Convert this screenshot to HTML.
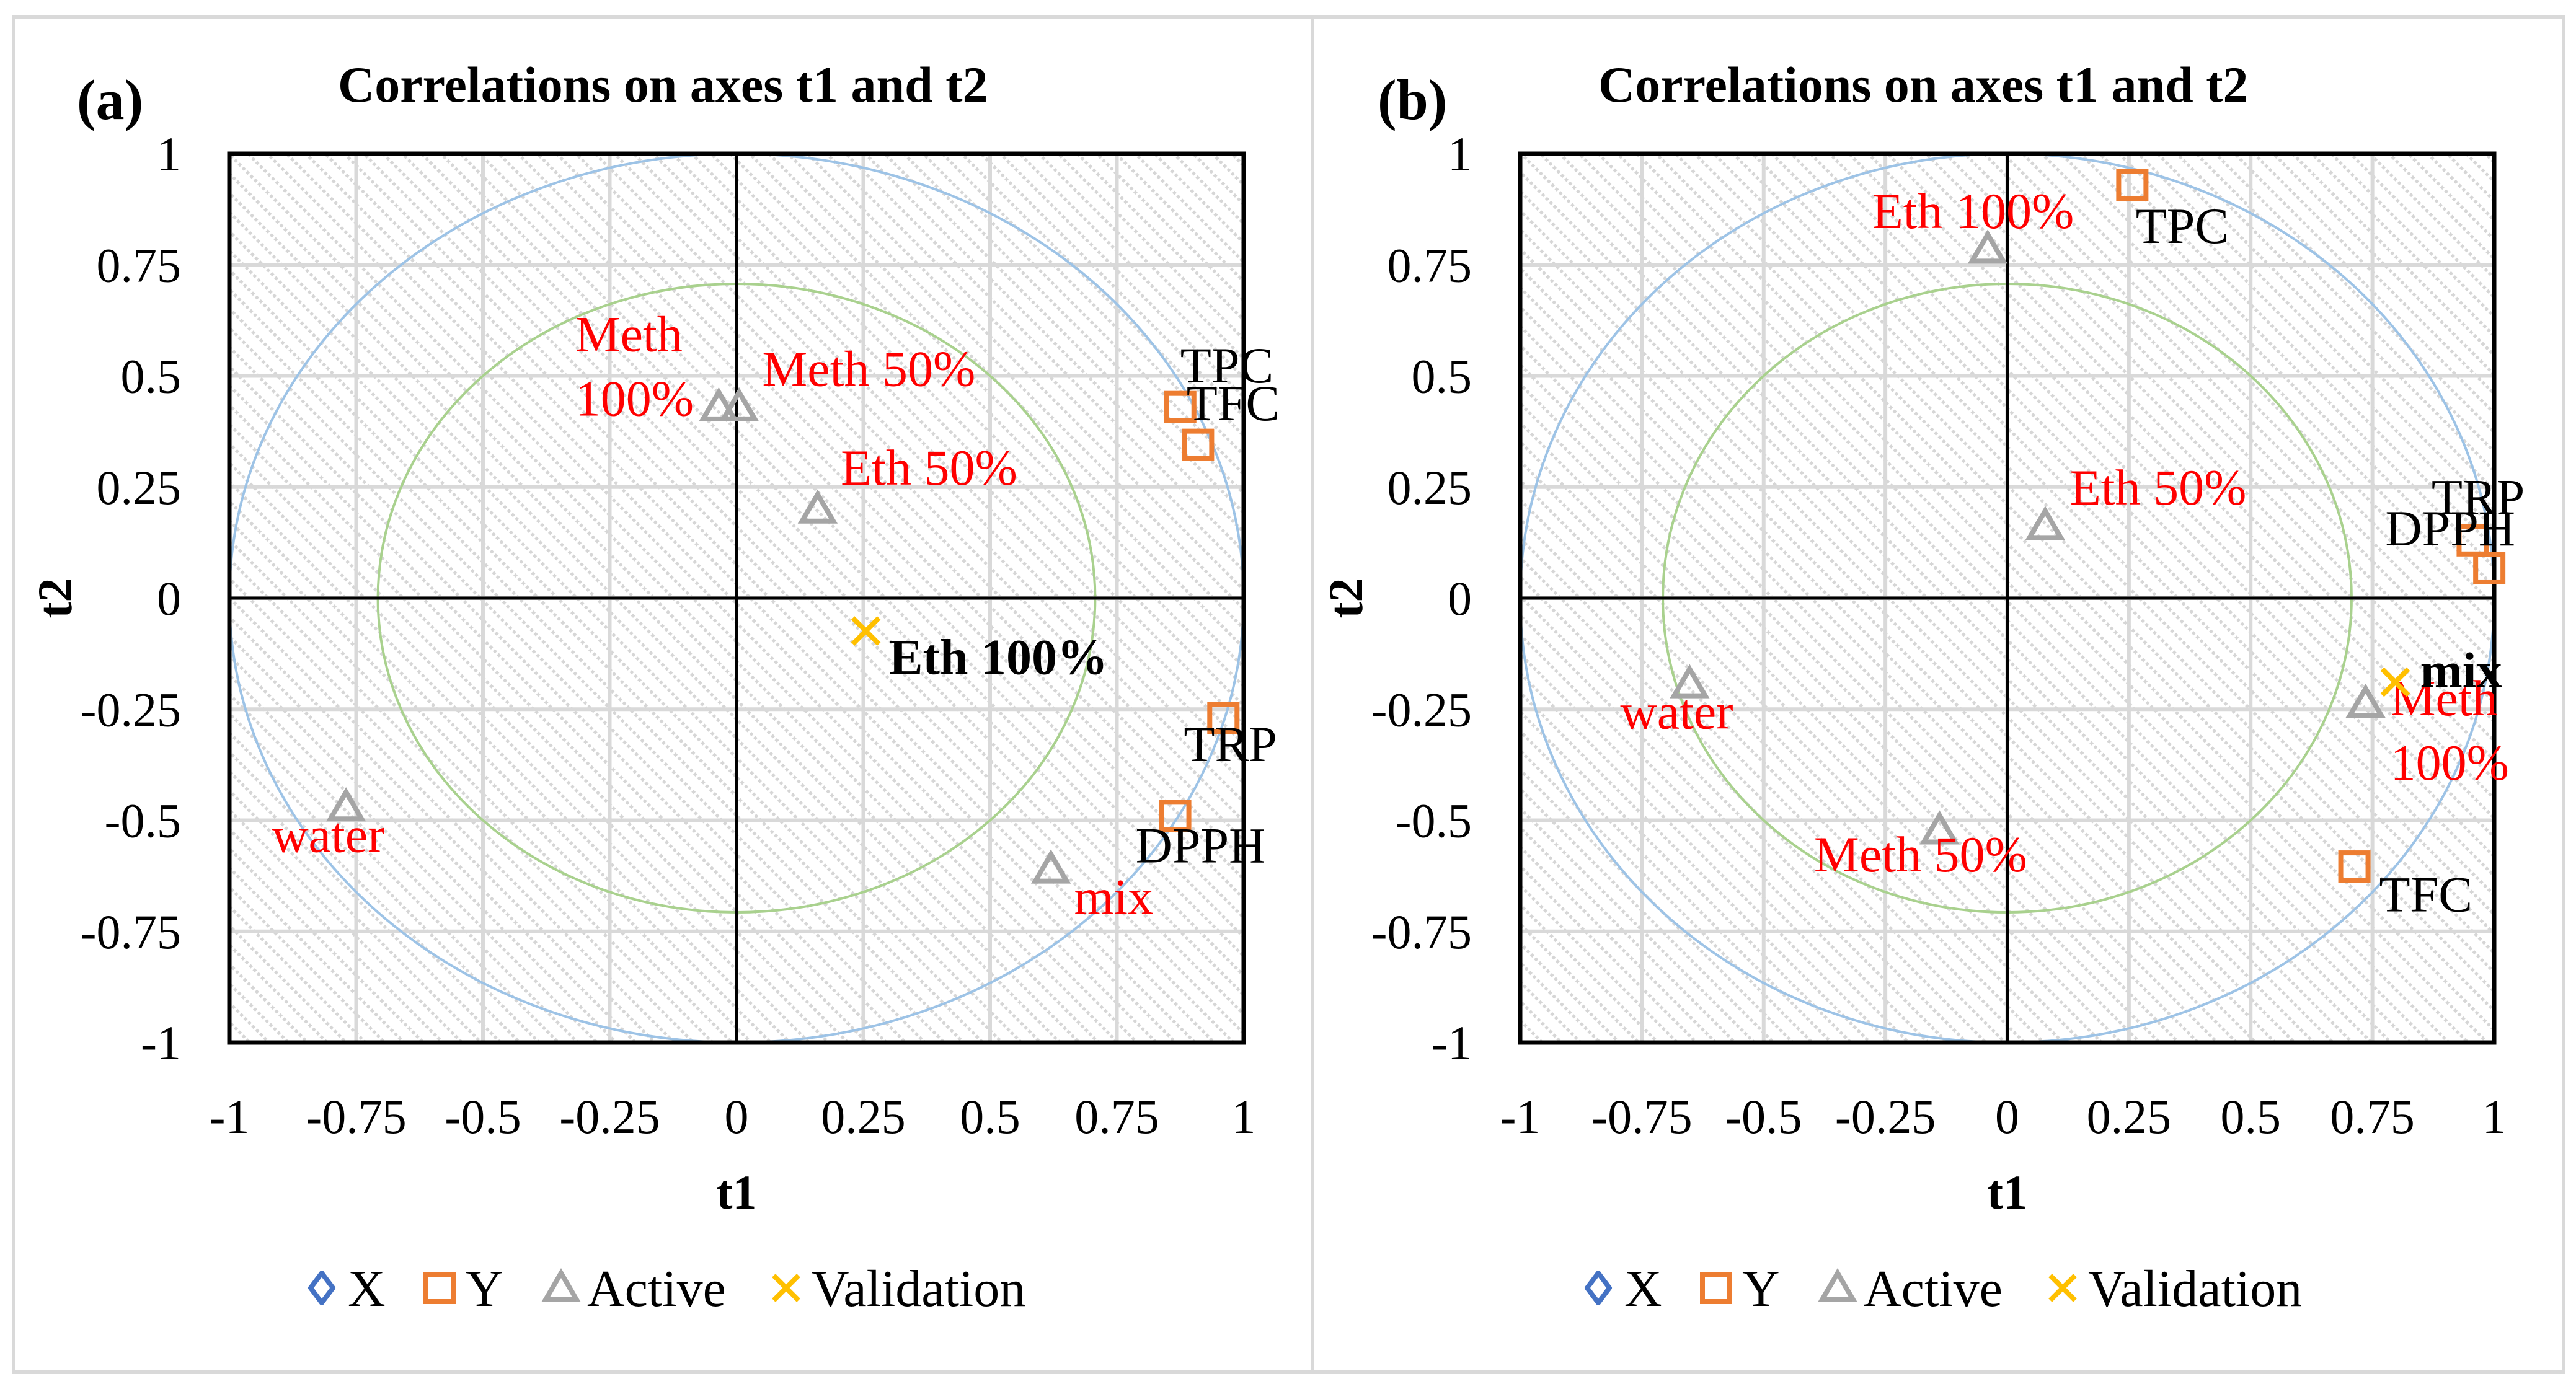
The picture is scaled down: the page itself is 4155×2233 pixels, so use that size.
<!DOCTYPE html>
<html><head><meta charset="utf-8"><style>
html,body{margin:0;padding:0;background:#fff;}
svg{display:block;font-family:"Liberation Serif",serif;}
</style></head><body>
<svg id="chart" width="4155" height="2233" viewBox="0 0 4155 2233" xmlns="http://www.w3.org/2000/svg">
<defs>
<pattern id="hatch" patternUnits="userSpaceOnUse" width="9" height="22" patternTransform="rotate(45)">
<rect x="0" y="0" width="5" height="5" fill="#d6d6d6"/>
</pattern>
</defs>
<rect x="22" y="28" width="2095" height="2186" fill="none" stroke="#d9d9d9" stroke-width="6"/>
<rect x="2117" y="28" width="2018" height="2186" fill="none" stroke="#d9d9d9" stroke-width="6"/>
<g id="ga"></g><g id="gb"></g>
</svg>
<script>
// Panel (a) data
const aActiveNames = ["Meth 100%","Meth 50%","Eth 50%","water","mix"];
const aActiveX = [-0.035, 0.005, 0.16, -0.77, 0.62];
const aActiveY = [0.43, 0.43, 0.20, -0.47, -0.61];
const aYNames = ["TPC","TFC","TRP","DPPH"];
const aYX = [0.875, 0.91, 0.96, 0.865];
const aYY = [0.43, 0.345, -0.27, -0.49];
const aValNames = ["Eth 100%"];
const aValX = [0.255];
const aValY = [-0.074];
// Panel (b) data
const bActiveNames = ["Eth 100%","Eth 50%","water","Meth 50%","Meth 100%"];
const bActiveX = [-0.04, 0.078, -0.652, -0.139, 0.736];
const bActiveY = [0.785, 0.163, -0.193, -0.522, -0.237];
const bYNames = ["TPC","TRP","DPPH","TFC"];
const bYX = [0.257, 0.956, 0.99, 0.713];
const bYY = [0.93, 0.13, 0.067, -0.604];
const bValNames = ["mix"];
const bValX = [0.797];
const bValY = [-0.189];
const tickValues = [-1,-0.75,-0.5,-0.25,0,0.25,0.5,0.75,1];
const tickLabels = ["-1","-0.75","-0.5","-0.25","0","0.25","0.5","0.75","1"];

const NS="http://www.w3.org/2000/svg";
const S=2.663;
function mk(parent,tag,attrs,text){const e=document.createElementNS(NS,tag);for(const k in attrs)e.setAttribute(k,attrs[k]);if(text!==undefined)e.textContent=text;parent.appendChild(e);return e;}

const offA={"Meth 100%":[[-87,-44,"Meth"],[-87,-5,"100%"]],"Meth 50%":[[14,-23]],"Eth 50%":[[14,-25]],"water":[[-45,17]],"mix":[[14,17]],
 "TPC":[[0,-25]],"TFC":[[-7,-25]],"TRP":[[-24,16]],"DPPH":[[-24,18]],"Eth 100%":[[14,16]]};
const offB={"Eth 100%":[[-70,-23]],"Eth 50%":[[15,-23]],"water":[[-42,17]],"Meth 50%":[[-76,15]],"Meth 100%":[[15,-3,"Meth"],[15,36,"100%"]],
 "TPC":[[2,25]],"TRP":[[-25,-26]],"DPPH":[[-63,-24]],"TFC":[[15,17]],"mix":[[15,-7]]};

function panel(g,L,R,T,B,letter,letterX,titleX,legendX,act,ys,val,off,pid){
  const cx=(L+R)/2, cy=(T+B)/2, hw=(R-L)/2, hh=(B-T)/2;
  const xs=v=>cx+v*hw, yp=v=>cy-v*hh;
  let e;
  e=mk(g,"text",{x:letterX,y:192,"font-size":92,"font-weight":"bold"},"("+letter+")");
  
  
  e=mk(g,"text",{x:titleX,y:164,"font-size":82,"font-weight":"bold"},"Correlations on axes t1 and t2");
  
  
  e=mk(g,"rect",{x:L,y:T,width:R-L,height:B-T,fill:"url(#hatch)"});
  
  
  tickValues.forEach((v,i)=>{
    e=mk(g,"line",{x1:xs(v),x2:xs(v),y1:T,y2:B,stroke:"#d9d9d9","stroke-width":6});
    
    
    e=mk(g,"line",{x1:L,x2:R,y1:yp(v),y2:yp(v),stroke:"#d9d9d9","stroke-width":6});
    
    
    e=mk(g,"text",{x:xs(v),y:1828,"font-size":78,"text-anchor":"middle"},tickLabels[i]);
    
    
    e=mk(g,"text",{x:L-78,y:yp(v)+27,"font-size":78,"text-anchor":"end"},tickLabels[i]);
    
    
  });
  e=mk(g,"ellipse",{cx:cx,cy:cy,rx:hw,ry:hh,fill:"none",stroke:"#9dc3e6","stroke-width":4});
  
  
  e=mk(g,"ellipse",{cx:cx,cy:cy,rx:hw*Math.SQRT1_2,ry:hh*Math.SQRT1_2,fill:"none",stroke:"#a9d18e","stroke-width":4});
  
  
  e=mk(g,"line",{x1:xs(0),x2:xs(0),y1:T,y2:B,stroke:"#000","stroke-width":5});
  
  
  e=mk(g,"line",{x1:L,x2:R,y1:yp(0),y2:yp(0),stroke:"#000","stroke-width":5});
  
  
  e=mk(g,"rect",{x:L,y:T,width:R-L,height:B-T,fill:"none",stroke:"#000","stroke-width":7});
  
  
  e=mk(g,"text",{x:cx,y:1950,"font-size":78,"font-weight":"bold","text-anchor":"middle"},"t1");
  
  
  e=mk(g,"text",{x:0,y:0,"font-size":78,"font-weight":"bold","text-anchor":"middle",transform:"translate("+(L-255)+","+cy+") rotate(-90)"},"t2");
  
  

  function labels(name,px,py,color,bold){
    (off[name]||[[14,16]]).forEach(o=>{
      const t=mk(g,"text",{x:px+o[0]*S,y:py+o[1]*S+27,"font-size":82,fill:color,"font-weight":bold?"bold":"normal"},o[2]||name);
      
      
    });
  }
  const [an,ax,ay]=act;
  an.forEach((n,i)=>{
    const px=xs(ax[i]),py=yp(ay[i]),r=24;
    const p=mk(g,"polygon",{points:`${px},${py-r} ${px+r*1.05},${py+r*0.8} ${px-r*1.05},${py+r*0.8}`,fill:"none",stroke:"#a5a5a5","stroke-width":8});
    
    
    labels(n,px,py,"#ff0000",false);
  });
  const [yn,yx,yy]=ys;
  yn.forEach((n,i)=>{
    const px=xs(yx[i]),py=yp(yy[i]);
    const p=mk(g,"rect",{x:px-22,y:py-22,width:44,height:44,fill:"none",stroke:"#ed7d31","stroke-width":8});
    
    
    labels(n,px,py,"#000",false);
  });
  const [vn,vx,vy]=val;
  vn.forEach((n,i)=>{
    const px=xs(vx[i]),py=yp(vy[i]),r=21;
    const p=mk(g,"path",{d:`M${px-r},${py-r}L${px+r},${py+r}M${px+r},${py-r}L${px-r},${py+r}`,stroke:"#ffc000","stroke-width":8});
    
    
    labels(n,px,py,"#000",true);
  });
  const ly=2078, lx=legendX;
  e=mk(g,"path",{d:`M${lx},${ly-24}L${lx+18},${ly}L${lx},${ly+24}L${lx-18},${ly}Z`,fill:"none",stroke:"#4472c4","stroke-width":8,"stroke-linejoin":"round"});
  
  
  e=mk(g,"text",{x:lx+42,y:ly+29,"font-size":84},"X");
  
  
  e=mk(g,"rect",{x:lx+190-22,y:ly-22,width:44,height:44,fill:"none",stroke:"#ed7d31","stroke-width":8});
  
  
  e=mk(g,"text",{x:lx+232,y:ly+29,"font-size":84},"Y");
  
  
  const tx=lx+386;
  e=mk(g,"polygon",{points:`${tx},${ly-24} ${tx+25},${ly+19} ${tx-25},${ly+19}`,fill:"none",stroke:"#a5a5a5","stroke-width":8});
  
  
  e=mk(g,"text",{x:lx+428,y:ly+29,"font-size":84},"Active");
  
  
  const vxp=lx+749;
  e=mk(g,"path",{d:`M${vxp-20},${ly-20}L${vxp+20},${ly+20}M${vxp+20},${ly-20}L${vxp-20},${ly+20}`,stroke:"#ffc000","stroke-width":8});
  
  
  e=mk(g,"text",{x:lx+790,y:ly+29,"font-size":84},"Validation");
  
  
}
panel(document.getElementById("ga"),370,2006,248,1682,"a",124,545,519,
  [aActiveNames,aActiveX,aActiveY],[aYNames,aYX,aYY],[aValNames,aValX,aValY],offA,"a");
panel(document.getElementById("gb"),2452,4023,248,1682,"b",2222,2578,2578,
  [bActiveNames,bActiveX,bActiveY],[bYNames,bYX,bYY],[bValNames,bValX,bValY],offB,"b");
</script>
</body></html>
